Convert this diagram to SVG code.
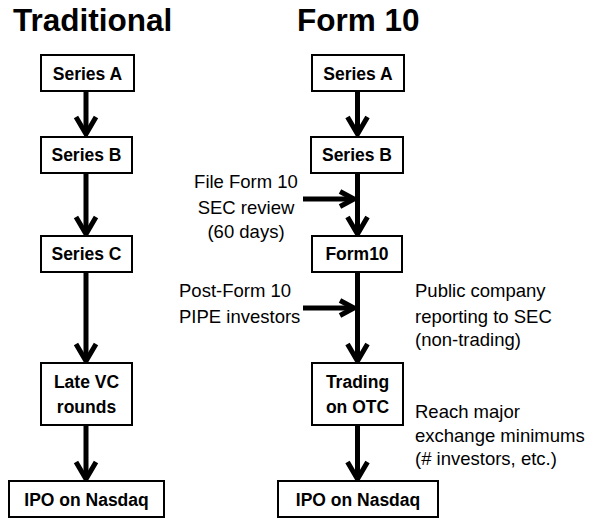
<svg xmlns="http://www.w3.org/2000/svg" width="593" height="519" viewBox="0 0 593 519">
<style>
.box{fill:#fff;stroke:#000;stroke-width:2}
.nt{font-family:"Liberation Sans",Arial,sans-serif;font-weight:bold;font-size:17.5px;fill:#000;text-anchor:middle}
.title{font-family:"Liberation Sans",Arial,sans-serif;font-weight:bold;font-size:31.5px;fill:#000}
.lbl{font-family:"Liberation Sans",Arial,sans-serif;font-size:18.5px;fill:#000}
.ln{fill:none;stroke:#000;stroke-width:5}
.hd{fill:none;stroke:#000;stroke-width:5;stroke-linecap:butt;stroke-linejoin:miter}
</style>
<rect width="593" height="519" fill="#fff"/>
<text class="title" x="13" y="31">Traditional</text>
<text class="title" x="297" y="31">Form 10</text>

<g id="connectors">
  <line class="ln" x1="86" y1="91" x2="86" y2="133"/>
  <polyline class="hd" points="76,117 86,134 96,117"/>
  <line class="ln" x1="86" y1="173" x2="86" y2="233"/>
  <polyline class="hd" points="76,217 86,234 96,217"/>
  <line class="ln" x1="86" y1="272" x2="86" y2="360"/>
  <polyline class="hd" points="76,344 86,361 96,344"/>
  <line class="ln" x1="86" y1="425" x2="86" y2="478"/>
  <polyline class="hd" points="76,462 86,479 96,462"/>
  <line class="ln" x1="357.5" y1="91" x2="357.5" y2="133"/>
  <polyline class="hd" points="347.5,117 357.5,134 367.5,117"/>
  <line class="ln" x1="357.5" y1="173" x2="357.5" y2="233"/>
  <polyline class="hd" points="347.5,217 357.5,234 367.5,217"/>
  <line class="ln" x1="357.5" y1="272" x2="357.5" y2="360"/>
  <polyline class="hd" points="347.5,344 357.5,361 367.5,344"/>
  <line class="ln" x1="357.5" y1="425" x2="357.5" y2="478"/>
  <polyline class="hd" points="347.5,462 357.5,479 367.5,462"/>
  <line class="ln" x1="303" y1="199" x2="353" y2="199"/>
  <polyline class="hd" points="340,191.5 354,199 340,206.5"/>
  <line class="ln" x1="303" y1="308" x2="353" y2="308"/>
  <polyline class="hd" points="340,300.5 354,308 340,315.5"/>
</g>

<g id="t-seriesA"><rect class="box" x="41" y="55" width="93" height="36"/><text class="nt" x="87.5" y="80">Series A</text></g>
<g id="t-seriesB"><rect class="box" x="41" y="137" width="91" height="36"/><text class="nt" x="86.5" y="161">Series B</text></g>
<g id="t-seriesC"><rect class="box" x="41" y="236" width="91" height="36"/><text class="nt" x="86.5" y="260">Series C</text></g>
<g id="t-latevc"><rect class="box" x="41" y="363" width="91" height="62"/><text class="nt" x="86.5" y="388">Late VC</text><text class="nt" x="86.5" y="413">rounds</text></g>
<g id="t-ipo"><rect class="box" x="9" y="481" width="155" height="36"/><text class="nt" x="86.5" y="506">IPO on Nasdaq</text></g>

<g id="f-seriesA"><rect class="box" x="312" y="55" width="92" height="36"/><text class="nt" x="358" y="80">Series A</text></g>
<g id="f-seriesB"><rect class="box" x="311" y="137" width="92" height="36"/><text class="nt" x="357" y="161">Series B</text></g>
<g id="f-form10"><rect class="box" x="312" y="236" width="90" height="36"/><text class="nt" x="357" y="260">Form10</text></g>
<g id="f-otc"><rect class="box" x="312" y="363" width="91" height="62"/><text class="nt" x="357.5" y="388">Trading</text><text class="nt" x="357.5" y="413">on OTC</text></g>
<g id="f-ipo"><rect class="box" x="278" y="481" width="160" height="36"/><text class="nt" x="358" y="506">IPO on Nasdaq</text></g>

<g id="lbl-file" class="lbl" text-anchor="middle">
  <text x="246" y="188">File Form 10</text>
  <text x="246" y="214">SEC review</text>
  <text x="246" y="238">(60 days)</text>
</g>
<g id="lbl-pipe" class="lbl">
  <text x="179" y="297">Post-Form 10</text>
  <text x="179" y="323">PIPE investors</text>
</g>
<g id="lbl-public" class="lbl">
  <text x="415" y="297">Public company</text>
  <text x="415" y="323">reporting to SEC</text>
  <text x="415" y="346">(non-trading)</text>
</g>
<g id="lbl-reach" class="lbl">
  <text x="415" y="418">Reach major</text>
  <text x="415" y="442">exchange minimums</text>
  <text x="415" y="465">(# investors, etc.)</text>
</g>
</svg>
